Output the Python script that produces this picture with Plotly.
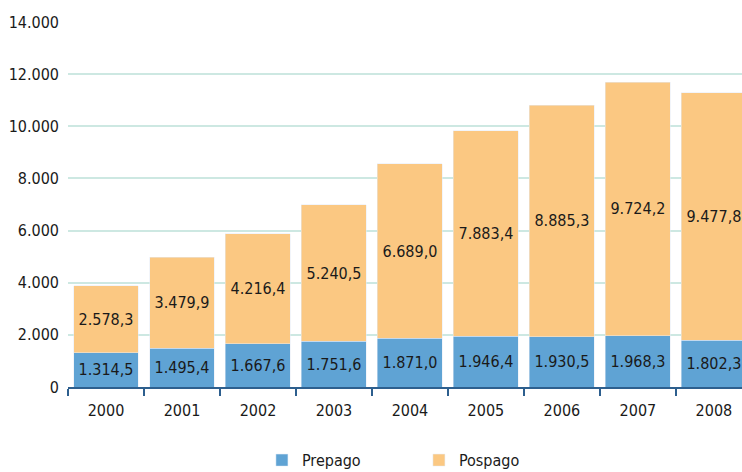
import plotly.graph_objects as go

years = ["2000", "2001", "2002", "2003", "2004", "2005", "2006", "2007", "2008"]
prepago = [1314.5, 1495.4, 1667.6, 1751.6, 1871.0, 1946.4, 1930.5, 1968.3, 1802.3]
pospago = [2578.3, 3479.9, 4216.4, 5240.5, 6689.0, 7883.4, 8885.3, 9724.2, 9477.8]

FONT = "DejaVu Sans Condensed, Liberation Sans Narrow, sans-serif"

fig = go.Figure()

fig.add_trace(go.Bar(
    x=years, y=prepago, name="Prepago",
    marker_color="#5fa3d4",
    texttemplate="%{y:,.1f}", textposition="inside",
    insidetextanchor="middle",
    textfont=dict(color="#1a1a1a", size=16, family=FONT),
))
fig.add_trace(go.Bar(
    x=years, y=pospago, name="Pospago",
    marker_color="#fbc882",
    texttemplate="%{y:,.1f}", textposition="inside",
    insidetextanchor="middle",
    textfont=dict(color="#1a1a1a", size=16, family=FONT),
))

fig.update_layout(
    barmode="stack",
    bargap=0.145,
    separators=",.",
    width=742, height=472,
    margin=dict(l=68, r=0, t=22, b=85, autoexpand=False),
    plot_bgcolor="white",
    paper_bgcolor="white",
    font=dict(family=FONT, size=16, color="#1a1a1a"),
    uniformtext=dict(minsize=10, mode="show"),
    xaxis=dict(
        range=[-0.5, 8.37],
        showline=True, linecolor="#2d5f8e", linewidth=2,
        ticks="outside", tickson="boundaries", ticklen=7, tickcolor="#2d5f8e",
        tickwidth=2, showgrid=False, ticklabelstandoff=8,
    ),
    yaxis=dict(
        range=[0, 14000], dtick=2000, tickformat=",d",
        showgrid=True, gridcolor="#cde8e2", gridwidth=1.5,
        zeroline=False, ticks="", ticklabelstandoff=8,
    ),
    legend=dict(
        orientation="h", xref="container", x=0.353, xanchor="left",
        yref="container", y=0.025, yanchor="middle",
        font=dict(size=16), traceorder="normal", itemwidth=30,
        entrywidth=112,
    ),
)

fig.write_html("out.html", config={"displayModeBar": False},
               post_script="document.body.style.margin='0';")
